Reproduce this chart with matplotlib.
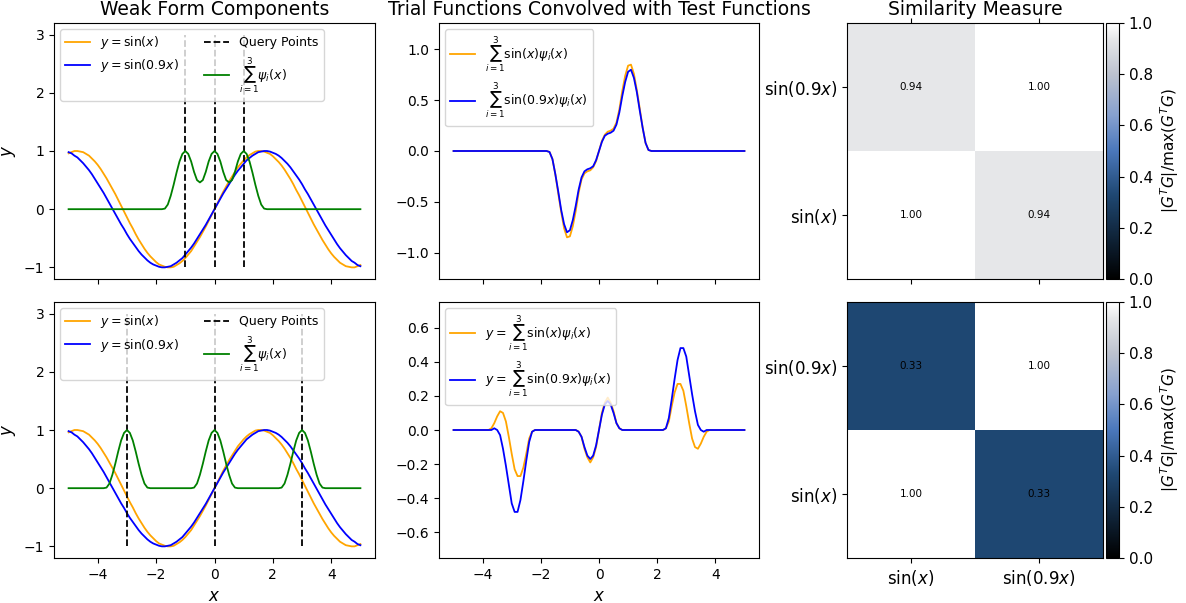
import numpy as np
import matplotlib
matplotlib.use('Agg')
import matplotlib.pyplot as plt
from matplotlib.colors import LinearSegmentedColormap

# sampling grid, x from -5 to 5 in steps of 0.1
x = np.linspace(-5, 5, 101)

# trial functions
sin_x = [0.96, 0.98, 1.00, 1.00, 0.99, 0.98, 0.95, 0.92, 0.87, 0.82,
         0.76, 0.69, 0.61, 0.53, 0.44, 0.35, 0.26, 0.16, 0.06, -0.04,
         -0.14, -0.24, -0.33, -0.43, -0.52, -0.60, -0.68, -0.75, -0.81, -0.86,
         -0.91, -0.95, -0.97, -0.99, -1.00, -1.00, -0.99, -0.96, -0.93, -0.89,
         -0.84, -0.78, -0.72, -0.64, -0.56, -0.48, -0.39, -0.30, -0.20, -0.10,
         0.00,
         0.10, 0.20, 0.30, 0.39, 0.48, 0.56, 0.64, 0.72, 0.78, 0.84,
         0.89, 0.93, 0.96, 0.99, 1.00, 1.00, 0.99, 0.97, 0.95, 0.91,
         0.86, 0.81, 0.75, 0.68, 0.60, 0.52, 0.43, 0.33, 0.24, 0.14,
         0.04, -0.06, -0.16, -0.26, -0.35, -0.44, -0.53, -0.61, -0.69, -0.76,
         -0.82, -0.87, -0.92, -0.95, -0.98, -0.99, -1.00, -1.00, -0.98, -0.96]

sin_09x = [0.98, 0.96, 0.92, 0.89, 0.84, 0.79, 0.73, 0.67, 0.60, 0.52,
           0.44, 0.36, 0.28, 0.19, 0.10, 0.01, -0.08, -0.17, -0.26, -0.34,
           -0.43, -0.51, -0.58, -0.65, -0.72, -0.78, -0.83, -0.88, -0.92, -0.95,
           -0.97, -0.99, -1.00, -1.00, -0.99, -0.98, -0.95, -0.92, -0.88, -0.84,
           -0.78, -0.72, -0.66, -0.59, -0.51, -0.43, -0.35, -0.27, -0.18, -0.09,
           0.00,
           0.09, 0.18, 0.27, 0.35, 0.43, 0.51, 0.59, 0.66, 0.72, 0.78,
           0.84, 0.88, 0.92, 0.95, 0.98, 0.99, 1.00, 1.00, 0.99, 0.97,
           0.95, 0.92, 0.88, 0.83, 0.78, 0.72, 0.65, 0.58, 0.51, 0.43,
           0.34, 0.26, 0.17, 0.08, -0.01, -0.10, -0.19, -0.28, -0.36, -0.44,
           -0.52, -0.60, -0.67, -0.73, -0.79, -0.84, -0.89, -0.92, -0.96, -0.98]

# sum of test functions, query points -1, 0, 1 (top) and -3, 0, 3 (bottom)
query_top = [-1, 0, 1]
query_bot = [-3, 0, 3]

psi_top = ([0.0] * 33 +
           [0.01, 0.08, 0.23, 0.42, 0.63, 0.82, 0.95, 1.00,
            0.95, 0.82, 0.64, 0.50, 0.46, 0.50, 0.64, 0.82, 0.95, 1.00,
            0.95, 0.82, 0.64, 0.50, 0.46, 0.50, 0.64, 0.82, 0.95, 1.00,
            0.95, 0.82, 0.63, 0.42, 0.23, 0.08, 0.01] +
           [0.0] * 33)

psi_bot = ([0.0] * 13 +
           [0.01, 0.08, 0.23, 0.42, 0.63, 0.82, 0.95, 1.00, 0.95, 0.82, 0.63, 0.42, 0.23, 0.08, 0.01] +
           [0.0] * 15 +
           [0.01, 0.08, 0.23, 0.42, 0.63, 0.82, 0.95, 1.00, 0.95, 0.82, 0.63, 0.42, 0.23, 0.08, 0.01] +
           [0.0] * 15 +
           [0.01, 0.08, 0.23, 0.42, 0.63, 0.82, 0.95, 1.00, 0.95, 0.82, 0.63, 0.42, 0.23, 0.08, 0.01] +
           [0.0] * 13)

# trial functions times test functions
prod_top_sin = ([0.0] * 33 +
                [-0.01, -0.08, -0.23, -0.42, -0.60, -0.76, -0.85, -0.84,
                 -0.74, -0.59, -0.41, -0.28, -0.22, -0.20, -0.19, -0.16, -0.10, 0.00,
                 0.10, 0.16, 0.19, 0.20, 0.22, 0.28, 0.41, 0.59, 0.74, 0.84,
                 0.85, 0.76, 0.60, 0.42, 0.23, 0.08, 0.01] +
                [0.0] * 33)

prod_top_sin09 = ([0.0] * 33 +
                  [-0.01, -0.08, -0.23, -0.40, -0.58, -0.72, -0.80, -0.78,
                   -0.68, -0.54, -0.38, -0.26, -0.20, -0.18, -0.17, -0.15, -0.09, 0.00,
                   0.09, 0.15, 0.17, 0.18, 0.20, 0.26, 0.38, 0.54, 0.68, 0.78,
                   0.80, 0.72, 0.58, 0.40, 0.23, 0.08, 0.01] +
                  [0.0] * 33)

prod_bot_sin = ([0.0] * 13 +
                [0.01, 0.04, 0.08, 0.11, 0.10, 0.05, -0.04, -0.14, -0.23, -0.27, -0.27, -0.22, -0.14, -0.05, -0.01] +
                [0.0] * 15 +
                [-0.01, -0.04, -0.11, -0.16, -0.19, -0.16, -0.10, 0.00, 0.10, 0.16, 0.19, 0.16, 0.11, 0.04, 0.01] +
                [0.0] * 15 +
                [0.01, 0.05, 0.14, 0.22, 0.27, 0.27, 0.23, 0.14, 0.04, -0.05, -0.10, -0.11, -0.08, -0.04, -0.01] +
                [0.0] * 13)

prod_bot_sin09 = ([0.0] * 13 +
                  [0.00, 0.01, 0.00, -0.03, -0.11, -0.21, -0.32, -0.43, -0.48, -0.48, -0.41, -0.30, -0.18, -0.07, -0.01] +
                  [0.0] * 15 +
                  [-0.01, -0.04, -0.10, -0.15, -0.17, -0.15, -0.09, 0.00, 0.09, 0.15, 0.17, 0.15, 0.10, 0.04, 0.01] +
                  [0.0] * 15 +
                  [0.01, 0.07, 0.18, 0.30, 0.41, 0.48, 0.48, 0.43, 0.32, 0.21, 0.11, 0.03, 0.00, -0.01, 0.00] +
                  [0.0] * 13)

# similarity matrices, rows bottom->top: sin(x), sin(0.9x)
sim_top = [[1.00, 0.94],
           [0.94, 1.00]]
sim_bot = [[1.00, 0.33],
           [0.33, 1.00]]
sim_labels = [r'$\sin(x)$', r'$\sin(0.9x)$']

cmap = LinearSegmentedColormap.from_list(
    'sim', [(0.0, '#000000'), (0.33, '#1f4873'), (0.5, '#4a77bb'),
            (0.64, '#86a0cf'), (0.8, '#bcc2cf'), (0.94, '#e6e7e9'), (1.0, '#ffffff')])

W, H = 1186, 603
fig = plt.figure(figsize=(W / 100, H / 100), dpi=100)


def px(l, t, r, b):
    return [l / W, 1 - b / H, (r - l) / W, (b - t) / H]


rows = [(23, 279), (302, 558)]
queries = [query_top, query_bot]
psis = [psi_top, psi_bot]
prods = [(prod_top_sin, prod_top_sin09), (prod_bot_sin, prod_bot_sin09)]
sims = [sim_top, sim_bot]
mid_lim = [1.26, 0.75]

for r, (t, b) in enumerate(rows):
    # left: weak form components
    ax = fig.add_axes(px(54, t, 375, b))
    ax.plot(x, sin_x, color='orange', lw=1.3, label=r'$y = \sin(x)$')
    ax.plot(x, sin_09x, color='blue', lw=1.3, label=r'$y = \sin(0.9x)$')
    ax.vlines(queries[r], -1, 3, colors='black', linestyles='--', lw=1.3, label='Query Points')
    ax.plot(x, psis[r], color='green', lw=1.3, label=r'$\sum_{i=1}^{3}\psi_i(x)$')
    ax.set_ylabel('$y$', fontsize=12)
    ax.set_yticks([-1, 0, 1, 2, 3])
    ax.set_xticks([-4, -2, 0, 2, 4])
    ax.tick_params(labelsize=10)
    ax.legend(loc='upper left', ncol=2, fontsize=9)
    if r == 0:
        ax.set_title('Weak Form Components', fontsize=13.5)
        ax.tick_params(labelbottom=False)
    else:
        ax.set_xlabel('$x$', fontsize=12)

    # middle: products
    ax = fig.add_axes(px(439, t, 759, b))
    pre = '' if r == 0 else 'y = '
    ax.plot(x, prods[r][0], color='orange', lw=1.3,
            label=r'$' + pre + r'\sum_{i=1}^{3}\sin(x)\psi_i(x)$')
    ax.plot(x, prods[r][1], color='blue', lw=1.3,
            label=r'$' + pre + r'\sum_{i=1}^{3}\sin(0.9x)\psi_i(x)$')
    ax.set_ylim(-mid_lim[r], mid_lim[r])
    ax.set_xticks([-4, -2, 0, 2, 4])
    ax.tick_params(labelsize=10)
    ax.legend(loc='upper left', fontsize=9)
    if r == 0:
        ax.set_title('Trial Functions Convolved with Test Functions', fontsize=13.5)
        ax.set_yticks([-1.0, -0.5, 0.0, 0.5, 1.0])
        ax.tick_params(labelbottom=False)
    else:
        ax.set_xlabel('$x$', fontsize=12)
        ax.set_yticks([-0.6, -0.4, -0.2, 0.0, 0.2, 0.4, 0.6])

    # right: similarity heatmap
    ax = fig.add_axes(px(847, t, 1103, b))
    im = ax.imshow(np.array(sims[r]), cmap=cmap, vmin=0, vmax=1, origin='lower', aspect='auto')
    for i in range(2):
        for j in range(2):
            ax.text(j, i, f'{sims[r][i][j]:.2f}', ha='center', va='center', fontsize=7.5, color='black')
    ax.set_xticks([0, 1])
    ax.set_yticks([0, 1])
    ax.set_yticklabels(sim_labels, fontsize=12)
    if r == 0:
        ax.set_title('Similarity Measure', fontsize=13.5)
        ax.set_xticklabels([])
        ax.tick_params(top=True)
    else:
        ax.set_xticklabels(sim_labels, fontsize=12)
    cax = fig.add_axes(px(1106, t, 1119, b))
    cb = fig.colorbar(im, cax=cax)
    cb.set_ticks([0.0, 0.2, 0.4, 0.6, 0.8, 1.0])
    cb.ax.tick_params(labelsize=11)
    cb.set_label(r'$|G^TG|/\max(G^TG)$', fontsize=11)

fig.savefig('out.png', dpi=100)
